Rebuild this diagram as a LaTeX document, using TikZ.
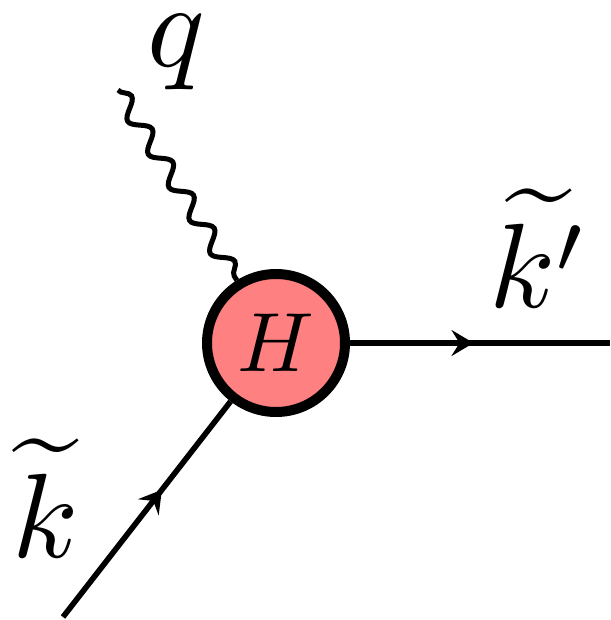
\documentclass[tikz,border=0pt]{standalone}
\usetikzlibrary{decorations.pathmorphing,decorations.markings,arrows.meta}
\begin{document}
\begin{tikzpicture}[x=0.5pt,y=-0.5pt,
 fermion/.style={line width=2.8pt, postaction=decorate, decoration={markings, mark=at position #1 with {\arrow{Stealth[length=11pt,width=13pt,inset=4pt]}}}},
 photon/.style={line width=2.5pt, decorate, decoration={snake, segment length=19.5pt, amplitude=4.2pt}},
 blob/.style={circle, draw, line width=5pt, fill=red!50, minimum size=69pt, inner sep=0pt},
 lbl/.style={scale=6, inner sep=0pt}]
\useasboundingbox (0,0) rectangle (610,620);
\node[blob, label={[scale=4.2, inner sep=0pt]center:$H$}] (H) at (276,343) {};
\coordinate (q0) at (118,90);
\coordinate (kin) at (63,617);
\coordinate (kout) at (610,343);
\draw[photon] (q0) -- (H);
\draw[fermion=0.59] (kin) -- (H);
\draw[fermion=0.475] (H) -- (kout);
\node[lbl] (lq) at (176,52) {$q$};
\node[lbl] (lk) at (46,498) {$\widetilde{k}$};
\node[lbl] (lkp) at (539,248) {$\widetilde{k'}$};
\end{tikzpicture}
\end{document}
